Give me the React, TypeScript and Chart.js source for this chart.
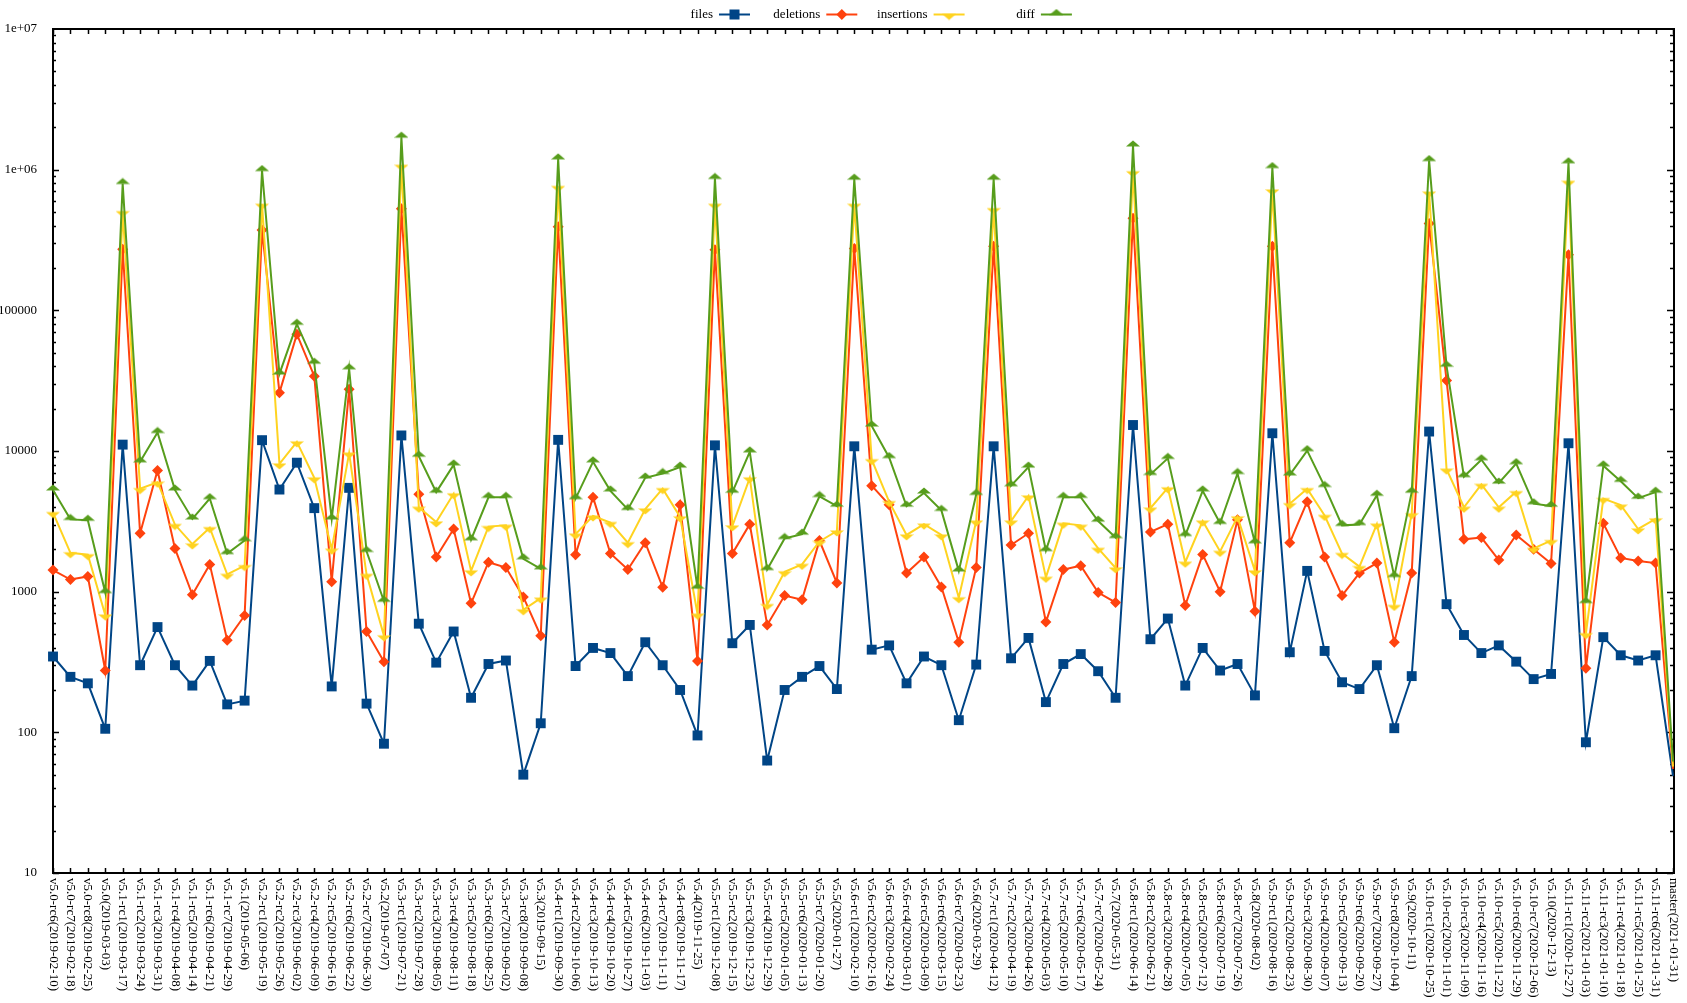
import React, { useEffect, useRef } from 'react';
import { Chart, registerables } from 'chart.js';

Chart.register(...registerables);

const labels = [
  'v5.0-rc6(2019-02-10)', 'v5.0-rc7(2019-02-18)', 'v5.0-rc8(2019-02-25)', 'v5.0(2019-03-03)',
  'v5.1-rc1(2019-03-17)', 'v5.1-rc2(2019-03-24)', 'v5.1-rc3(2019-03-31)', 'v5.1-rc4(2019-04-08)',
  'v5.1-rc5(2019-04-14)', 'v5.1-rc6(2019-04-21)', 'v5.1-rc7(2019-04-29)', 'v5.1(2019-05-06)',
  'v5.2-rc1(2019-05-19)', 'v5.2-rc2(2019-05-26)', 'v5.2-rc3(2019-06-02)', 'v5.2-rc4(2019-06-09)',
  'v5.2-rc5(2019-06-16)', 'v5.2-rc6(2019-06-22)', 'v5.2-rc7(2019-06-30)', 'v5.2(2019-07-07)',
  'v5.3-rc1(2019-07-21)', 'v5.3-rc2(2019-07-28)', 'v5.3-rc3(2019-08-05)', 'v5.3-rc4(2019-08-11)',
  'v5.3-rc5(2019-08-18)', 'v5.3-rc6(2019-08-25)', 'v5.3-rc7(2019-09-02)', 'v5.3-rc8(2019-09-08)',
  'v5.3(2019-09-15)', 'v5.4-rc1(2019-09-30)', 'v5.4-rc2(2019-10-06)', 'v5.4-rc3(2019-10-13)',
  'v5.4-rc4(2019-10-20)', 'v5.4-rc5(2019-10-27)', 'v5.4-rc6(2019-11-03)', 'v5.4-rc7(2019-11-11)',
  'v5.4-rc8(2019-11-17)', 'v5.4(2019-11-25)', 'v5.5-rc1(2019-12-08)', 'v5.5-rc2(2019-12-15)',
  'v5.5-rc3(2019-12-23)', 'v5.5-rc4(2019-12-29)', 'v5.5-rc5(2020-01-05)', 'v5.5-rc6(2020-01-13)',
  'v5.5-rc7(2020-01-20)', 'v5.5(2020-01-27)', 'v5.6-rc1(2020-02-10)', 'v5.6-rc2(2020-02-16)',
  'v5.6-rc3(2020-02-24)', 'v5.6-rc4(2020-03-01)', 'v5.6-rc5(2020-03-09)', 'v5.6-rc6(2020-03-15)',
  'v5.6-rc7(2020-03-23)', 'v5.6(2020-03-29)', 'v5.7-rc1(2020-04-12)', 'v5.7-rc2(2020-04-19)',
  'v5.7-rc3(2020-04-26)', 'v5.7-rc4(2020-05-03)', 'v5.7-rc5(2020-05-10)', 'v5.7-rc6(2020-05-17)',
  'v5.7-rc7(2020-05-24)', 'v5.7(2020-05-31)', 'v5.8-rc1(2020-06-14)', 'v5.8-rc2(2020-06-21)',
  'v5.8-rc3(2020-06-28)', 'v5.8-rc4(2020-07-05)', 'v5.8-rc5(2020-07-12)', 'v5.8-rc6(2020-07-19)',
  'v5.8-rc7(2020-07-26)', 'v5.8(2020-08-02)', 'v5.9-rc1(2020-08-16)', 'v5.9-rc2(2020-08-23)',
  'v5.9-rc3(2020-08-30)', 'v5.9-rc4(2020-09-07)', 'v5.9-rc5(2020-09-13)', 'v5.9-rc6(2020-09-20)',
  'v5.9-rc7(2020-09-27)', 'v5.9-rc8(2020-10-04)', 'v5.9(2020-10-11)', 'v5.10-rc1(2020-10-25)',
  'v5.10-rc2(2020-11-01)', 'v5.10-rc3(2020-11-09)', 'v5.10-rc4(2020-11-16)', 'v5.10-rc5(2020-11-22)',
  'v5.10-rc6(2020-11-29)', 'v5.10-rc7(2020-12-06)', 'v5.10(2020-12-13)', 'v5.11-rc1(2020-12-27)',
  'v5.11-rc2(2021-01-03)', 'v5.11-rc3(2021-01-10)', 'v5.11-rc4(2021-01-18)', 'v5.11-rc5(2021-01-25)',
  'v5.11-rc6(2021-01-31)', 'master(2021-01-31)',
];

const files = [
  346, 248, 223, 106, 11100, 300, 560, 300, 215, 322, 158, 168,
  11940, 5320, 8260, 3925, 212, 5470, 160, 83,
  12900, 592, 313, 521, 176, 306, 324, 50, 116,
  12000, 296, 398, 366, 251, 437, 300, 200, 95,
  10970, 430, 580, 63, 200, 248, 296, 203,
  10800, 387, 415, 223, 346, 300, 122, 303,
  10800, 336, 469, 164, 306, 360, 272, 176,
  15300, 459, 644, 215, 398, 275, 306, 183,
  13370, 371, 1405, 379, 227, 203, 300, 107, 251,
  13750, 815, 492, 366, 415, 318, 239, 260,
  11350, 85, 475, 353, 324, 353, 49,
];

const deletions = [
  1425, 1220, 1282, 275, 272000, 2600, 7270, 2030, 951, 1563, 452, 677,
  373000, 26000, 67700, 34000, 1177, 27500, 521, 318,
  528000, 4920, 1762, 2790, 826, 1620, 1486, 918, 485,
  393000, 1827, 4690, 1866, 1436, 2228, 1074, 4150, 322,
  270000, 1866, 3020, 580, 938, 875, 2307, 1153,
  275000, 5670, 4150, 1356, 1762, 1081, 437, 1486,
  285000, 2148, 2600, 609, 1436, 1530, 986, 838,
  452000, 2660, 3020, 798, 1840, 1000, 3240, 727,
  285000, 2228, 4365, 1762, 938, 1356, 1596, 437, 1356,
  415000, 31750, 2355, 2425, 1678, 2530, 2003, 1585,
  248000, 285, 3060, 1738, 1653, 1596, 55,
];

const insertions = [
  3650, 1890, 1830, 682, 503000, 5400, 6000, 3000, 2180, 2850, 1327, 1530,
  567000, 8090, 11600, 6440, 2003, 9660, 1327, 485,
  1073000, 3980, 3130, 4960, 1405, 2900, 2960, 743, 899,
  759000, 2565, 3450, 3100, 2228, 3870, 5400, 3400, 692,
  567000, 2930, 6440, 809, 1385, 1563, 2275, 2700,
  567000, 8670, 4365, 2530, 3020, 2530, 905, 3175,
  528000, 3175, 4790, 1264, 3060, 2960, 2030, 1476,
  966000, 3925, 5470, 1620, 3175, 1933, 3400, 1405,
  717000, 4220, 5400, 3480, 1866, 1507, 3020, 798, 3580,
  692000, 7430, 3980, 5790, 3980, 5140, 2030, 2307,
  826000, 503, 4590, 4120, 2790, 3290, 57,
];

const diff = [
  5290, 3265, 3220, 986, 798000, 8380, 13550, 5290, 3290, 4590, 1866, 2307,
  986000, 35300, 79700, 42100, 3290, 38400, 1933, 855,
  1702000, 9190, 5100, 7970, 2340, 4690, 4690, 1714, 1455,
  1194000, 4590, 8380, 5210, 3843, 6440, 6920, 7690, 1059,
  867000, 5100, 9860, 1436, 2390, 2565, 4750, 4060,
  856000, 15070, 8990, 4060, 5030, 3785, 1405, 4920,
  856000, 5670, 7690, 1960, 4690, 4690, 3175, 2425,
  1476000, 6820, 8870, 2510, 5210, 3060, 6920, 2228,
  1036000, 6770, 10070, 5600, 2960, 3000, 4850, 1282, 5100,
  1161000, 40100, 6580, 8670, 5920, 8140, 4220, 4060,
  1120000, 838, 7850, 6090, 4620, 5100, 62,
];

const yTicks = [10, 100, 1000, 10000, 100000, 1000000, 10000000];
const yTickLabels = ['10', '100', '1000', '10000', '100000', '1e+06', '1e+07'];
const seriesNames = ['files', 'deletions', 'insertions', 'diff'];

const COLORS = {
  files: '#004586',
  deletions: '#ff420e',
  insertions: '#ffd320',
  diff: '#579d1c',
};
const FONT = '"Liberation Serif", "Times New Roman", serif';

function triCanvas(color: string, up: boolean) {
  const c = document.createElement('canvas');
  c.width = 14;
  c.height = 12;
  const g = c.getContext('2d')!;
  g.fillStyle = color;
  g.beginPath();
  if (up) {
    g.moveTo(0, 6.5);
    g.lineTo(14, 6.5);
    g.lineTo(7, 0.5);
  } else {
    g.moveTo(0, 5.5);
    g.lineTo(14, 5.5);
    g.lineTo(7, 11.5);
  }
  g.closePath();
  g.fill();
  return c;
}

export default function App() {
  const ref = useRef<HTMLCanvasElement>(null);

  useEffect(() => {
    document.body.style.margin = '0';
    const canvas = ref.current!;
    const triUp = triCanvas(COLORS.diff, true);
    const triDown = triCanvas(COLORS.insertions, false);
    const last = labels.length - 1;

    const drawMarker = (ctx: CanvasRenderingContext2D, idx: number, x: number, y: number) => {
      const color = [COLORS.files, COLORS.deletions, COLORS.insertions, COLORS.diff][idx];
      ctx.fillStyle = color;
      if (idx === 0) {
        ctx.fillRect(x - 5, y - 5, 10, 10);
      } else if (idx === 1) {
        ctx.beginPath();
        ctx.moveTo(x, y - 5.5);
        ctx.lineTo(x + 5.5, y);
        ctx.lineTo(x, y + 5.5);
        ctx.lineTo(x - 5.5, y);
        ctx.closePath();
        ctx.fill();
      } else {
        const img = idx === 2 ? triDown : triUp;
        ctx.drawImage(img, x - img.width / 2, y - img.height / 2);
      }
    };

    const framePlugin = {
      id: 'gnuframe',
      beforeDatasetsDraw(chart: any) {
        const ctx = chart.ctx as CanvasRenderingContext2D;
        const { left, right, top, bottom } = chart.chartArea;
        const xs = chart.scales.x;
        const ys = chart.scales.y;
        ctx.save();
        ctx.strokeStyle = '#000';
        ctx.lineWidth = 1.5;
        ctx.beginPath();
        labels.forEach((_, i) => {
          const x = Math.round(xs.getPixelForValue(i)) + 0.5;
          ctx.moveTo(x, bottom);
          ctx.lineTo(x, bottom - 5);
          ctx.moveTo(x, top);
          ctx.lineTo(x, top + 5);
        });
        for (let e = 1; e < 7; e++) {
          for (let m = 1; m < 10; m++) {
            const v = m * Math.pow(10, e);
            const y = Math.round(ys.getPixelForValue(v)) + 0.5;
            const len = m === 1 ? 6 : 3;
            ctx.moveTo(left, y);
            ctx.lineTo(left + len, y);
            ctx.moveTo(right, y);
            ctx.lineTo(right - len, y);
          }
        }
        ctx.stroke();
        ctx.lineWidth = 2;
        ctx.strokeRect(left, top, right - left + 1, bottom - top);
        ctx.restore();
      },
      afterDraw(chart: any) {
        const ctx = chart.ctx as CanvasRenderingContext2D;
        const { left, bottom } = chart.chartArea;
        const xs = chart.scales.x;
        ctx.save();
        ctx.fillStyle = '#000';
        ctx.font = '13px ' + FONT;
        ctx.textAlign = 'left';
        ctx.textBaseline = 'middle';
        labels.forEach((lab, i) => {
          const x = xs.getPixelForValue(i);
          ctx.save();
          ctx.translate(x, bottom + 5);
          ctx.rotate(Math.PI / 2);
          ctx.fillText(lab, 0, 0);
          ctx.restore();
        });
        // legend (gnuplot style: text then sample)
        const ly = 14.5;
        seriesNames.forEach((name, k) => {
          const textRight = left + 660 + k * 107.3;
          ctx.fillStyle = '#000';
          ctx.textAlign = 'right';
          ctx.textBaseline = 'middle';
          ctx.fillText(name, textRight, ly);
          const color = [COLORS.files, COLORS.deletions, COLORS.insertions, COLORS.diff][k];
          ctx.strokeStyle = color;
          ctx.lineWidth = 2;
          ctx.beginPath();
          ctx.moveTo(textRight + 6, ly);
          ctx.lineTo(textRight + 37, ly);
          ctx.stroke();
          drawMarker(ctx, k, textRight + 21.5, ly);
        });
        ctx.restore();
      },
    };

    const radiusFn = (r: number) => (c: any) => (c.dataIndex === last ? 0 : r);

    const chart = new Chart(canvas, {
      type: 'line',
      data: {
        labels,
        datasets: [
          {
            label: 'files',
            data: files,
            borderColor: COLORS.files,
            backgroundColor: COLORS.files,
            borderWidth: 2,
            pointStyle: 'rect',
            pointRadius: radiusFn(7),
            pointBorderWidth: 0,
            order: 3,
            clip: false,
          },
          {
            label: 'deletions',
            data: deletions,
            borderColor: COLORS.deletions,
            backgroundColor: COLORS.deletions,
            borderWidth: 2,
            pointStyle: 'rectRot',
            pointRadius: radiusFn(5.5),
            pointBorderWidth: 0,
            order: 2,
            clip: false,
          },
          {
            label: 'insertions',
            data: insertions,
            borderColor: COLORS.insertions,
            backgroundColor: COLORS.insertions,
            borderWidth: 2,
            pointStyle: triDown as any,
            pointRadius: radiusFn(6),
            order: 1,
            clip: false,
          },
          {
            label: 'diff',
            data: diff,
            borderColor: COLORS.diff,
            backgroundColor: COLORS.diff,
            borderWidth: 2,
            pointStyle: triUp as any,
            pointRadius: radiusFn(6),
            order: 0,
            clip: false,
          },
        ] as any,
      },
      options: {
        animation: false,
        responsive: false,
        events: [],
        layout: { padding: { top: 29, right: 14, left: 0, bottom: 0 } },
        elements: { line: { tension: 0 } },
        plugins: {
          legend: { display: false },
          tooltip: { enabled: false },
        },
        scales: {
          x: {
            type: 'category',
            offset: false,
            grid: { display: false },
            border: { display: false },
            ticks: { display: false },
            afterFit: (s: any) => {
              s.height = 130;
            },
          },
          y: {
            type: 'logarithmic',
            min: 10,
            max: 10000000,
            grid: { display: false },
            border: { display: false },
            afterBuildTicks: (s: any) => {
              s.ticks = yTicks.map((v) => ({ value: v, major: true }));
            },
            afterFit: (s: any) => {
              s.width = 53;
            },
            ticks: {
              autoSkip: false,
              padding: 8,
              color: '#000',
              font: { family: FONT, size: 13 },
              callback: (v: any) => {
                const i = yTicks.indexOf(Number(v));
                return i >= 0 ? yTickLabels[i] : '';
              },
            },
          },
        },
      },
      plugins: [framePlugin],
    });
    return () => chart.destroy();
  }, []);

  return (
    <div style={{ width: 1687, height: 1003, overflow: 'hidden' }}>
      <canvas ref={ref} width={1687} height={1003} style={{ display: 'block' }} />
    </div>
  );
}
